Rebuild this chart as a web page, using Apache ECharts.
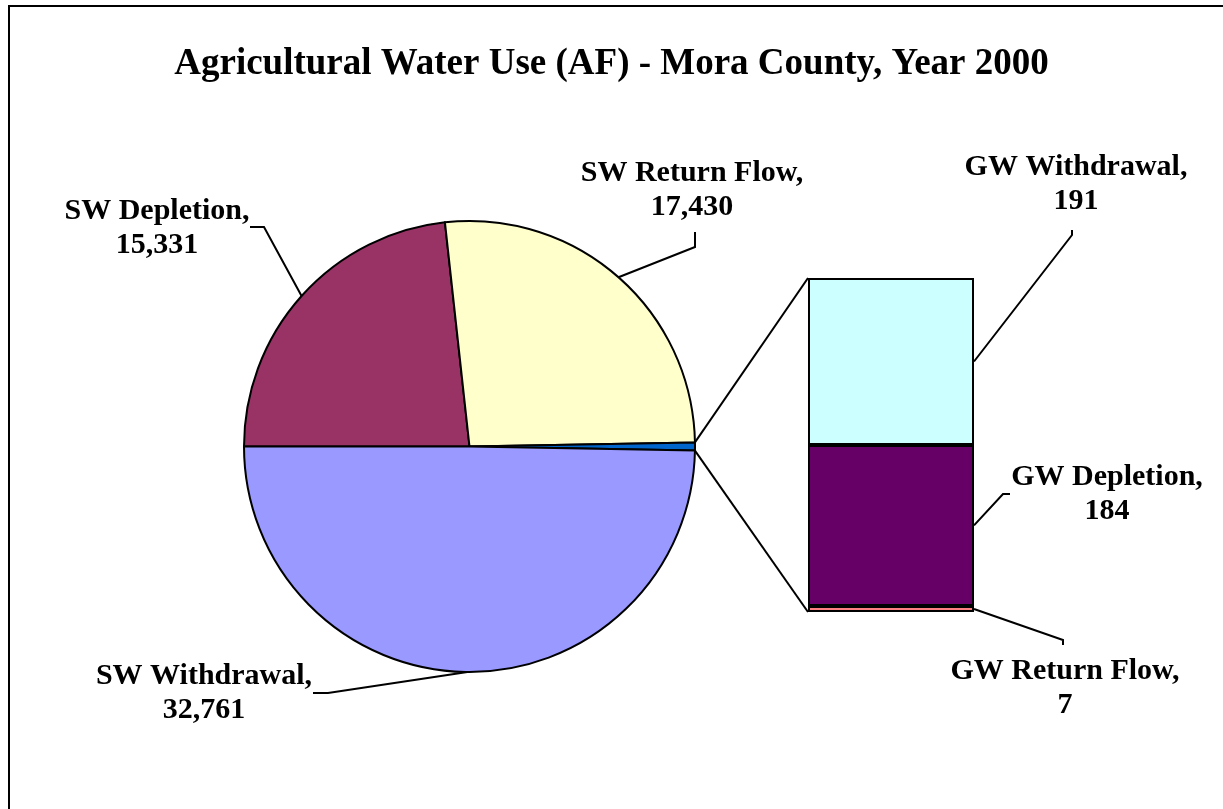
<!DOCTYPE html>
<html>
<head>
    <meta charset="utf-8">
    <script type="text/javascript" src="https://cdn.jsdelivr.net/npm/echarts@6/dist/echarts.min.js"></script>
    <style>
        body { margin: 0; background: #fff; }
    </style>
</head>
<body>
<div id="main" style="width:1223px;height:809px"></div>
<script type="text/javascript">
    // pie part (surface water + the GW "other" slice)
    var pieNames = ['SW Depletion', 'SW Return Flow', 'SW Withdrawal'];
    var pieValues = [15331, 17430, 32761];
    var pieColors = ['#993366', '#FFFFCC', '#9999FF'];
    // bar part (ground water)
    var barNames = ['GW Withdrawal', 'GW Depletion', 'GW Return Flow'];
    var barValues = [191, 184, 7];
    var barColors = ['#CCFFFF', '#660066', '#FF8080'];
    var otherColor = '#0066CC';

    var FONT = 'Liberation Serif';
    var PIE_CX = 469.5, PIE_CY = 446.5, PIE_R = 225.5, START = 180;
    var BAR_LEFT = 808, BAR_TOP = 278, BAR_W = 166, BAR_H = 334;

    var gwTotal = barValues.reduce(function (a, b) { return a + b; }, 0);
    // slice order clockwise from 9 o'clock
    var pieData = [
        {name: pieNames[0], value: pieValues[0], itemStyle: {color: pieColors[0]}},
        {name: pieNames[1], value: pieValues[1], itemStyle: {color: pieColors[1]}},
        {name: 'Other', value: gwTotal, itemStyle: {color: otherColor}, label: {show: false}},
        {name: pieNames[2], value: pieValues[2], itemStyle: {color: pieColors[2]}}
    ];
    // label centres, by slice index
    var pieLabelPos = [[157, 228], [692, 190], null, [204, 693]];
    var barLabelPos = [[1076, 184], [1107, 494], [1065, 688]];

    var labelStyle = {
        show: true,
        fontFamily: FONT,
        fontWeight: 'bold',
        fontSize: 30,
        lineHeight: 34,
        color: '#000',
        align: 'center'
    };

    var myChart = echarts.init(document.getElementById('main'));
    // bars stacked bottom-up: return flow, depletion, withdrawal
    var barSeries = [];
    for (var i = barNames.length - 1; i >= 0; i--) {
        (function (k) {
            barSeries.push({
                type: 'bar',
                name: barNames[k],
                stack: 'gw',
                barWidth: '100%',
                data: [barValues[k]],
                itemStyle: {color: barColors[k], borderColor: '#000', borderWidth: 2},
                label: echarts.util.extend({
                    formatter: function (p) {
                        return p.seriesName + ',\n' + echarts.format.addCommas(p.value);
                    }
                }, labelStyle),
                labelLayout: function () {
                    return {x: barLabelPos[k][0], y: barLabelPos[k][1], align: 'center', verticalAlign: 'middle'};
                },
                silent: true
            });
        })(i);
    }

    var option = {
        animation: false,
        backgroundColor: '#fff',
        title: {
            text: 'Agricultural Water Use (AF) - Mora County, Year 2000',
            left: 'center',
            top: 41,
            textStyle: {fontFamily: FONT, fontWeight: 'bold', fontSize: 37, color: '#000'}
        },
        grid: {left: BAR_LEFT, top: BAR_TOP, width: BAR_W, height: BAR_H},
        xAxis: {type: 'category', data: ['GW'], show: false},
        yAxis: {type: 'value', min: 0, max: gwTotal, show: false},
        series: [{
            type: 'pie',
            center: [PIE_CX, PIE_CY],
            radius: PIE_R,
            startAngle: START,
            clockwise: true,
            avoidLabelOverlap: false,
            silent: true,
            data: pieData,
            itemStyle: {borderColor: '#000', borderWidth: 2},
            label: echarts.util.extend({
                formatter: function (p) {
                    return p.name + ',\n' + echarts.format.addCommas(p.value);
                }
            }, labelStyle),
            labelLine: {show: false},
            labelLayout: function (params) {
                var p = pieLabelPos[params.dataIndex];
                if (!p) return {};
                return {x: p[0], y: p[1], align: 'center', verticalAlign: 'middle'};
            }
        }].concat(barSeries)
    };
    myChart.setOption(option);

    // leader lines and connectors, computed from the data
    var pieTotal = pieData.reduce(function (a, d) { return a + d.value; }, 0);
    function piePoint(deg) {
        var t = deg * Math.PI / 180;
        return [PIE_CX + PIE_R * Math.cos(t), PIE_CY - PIE_R * Math.sin(t)];
    }
    var cum = 0, mids = [], edges = [];
    pieData.forEach(function (d) {
        var a0 = START - cum / pieTotal * 360;
        cum += d.value;
        var a1 = START - cum / pieTotal * 360;
        edges.push([a0, a1]);
        mids.push(piePoint((a0 + a1) / 2));
    });
    var lineStyle = {stroke: '#000', lineWidth: 2, fill: null};
    function poly(pts) {
        return {type: 'polyline', silent: true, z: 100, shape: {points: pts}, style: lineStyle};
    }

    var barRight = BAR_LEFT + BAR_W;
    var stackBelow = 0, barMid = [];
    for (var j = barValues.length - 1; j >= 0; j--) {
        barMid[j] = myChart.convertToPixel({gridIndex: 0}, [0, stackBelow + barValues[j] / 2])[1];
        stackBelow += barValues[j];
    }
    var barTopY = myChart.convertToPixel({gridIndex: 0}, [0, gwTotal])[1];
    var barBotY = myChart.convertToPixel({gridIndex: 0}, [0, 0])[1];
    var otherTop = piePoint(edges[2][0]);
    var otherBot = piePoint(edges[2][1]);

    myChart.setOption({
        graphic: [
            {type: 'rect', silent: true, shape: {x: 9, y: 6, width: 1400, height: 1000},
                style: {fill: null, stroke: '#000', lineWidth: 2}},
            poly([[250, 227], [264, 227], mids[0]]),
            poly([[695, 232], [695, 247], mids[1]]),
            poly([[313, 693], [328, 693], mids[3]]),
            poly([otherTop, [BAR_LEFT, barTopY]]),
            poly([otherBot, [BAR_LEFT, barBotY]]),
            poly([[barRight, barMid[0]], [1072, 235], [1072, 230]]),
            poly([[barRight, barMid[1]], [1003, 494], [1010, 494]]),
            poly([[barRight, barMid[2]], [1063, 640], [1063, 645]])
        ]
    });
</script>
</body>
</html>
